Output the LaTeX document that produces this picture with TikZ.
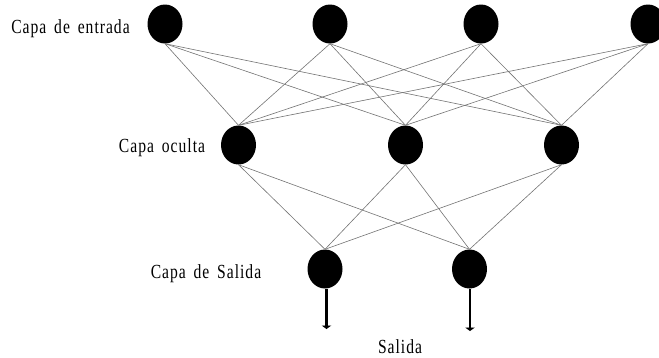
\documentclass[tikz,border=0pt]{standalone}
\usepackage{fontspec}
\setmainfont{Liberation Serif}
\newfontfamily\lblfont[FakeStretch=0.78,LetterSpace=5,WordSpace=1.6]{Liberation Serif}
\usetikzlibrary{shapes.geometric,arrows.meta}
\begin{document}
\begin{tikzpicture}[x=1pt,y=-1pt,
  neuron/.style={ellipse,fill=black,draw=none,minimum width=35pt,minimum height=39pt,inner sep=0pt},
  link/.style={draw=black!55,line width=0.6pt},
  outarrow/.style={draw=black,line width=2.8pt,-{Triangle[width=9.5pt,length=3.5pt]}},
  lbl/.style={font=\lblfont\fontsize{20}{22}\selectfont,inner sep=0pt}]
\useasboundingbox (0,0) rectangle (659,357);
\clip (0,0) rectangle (659,357);
\node[neuron] (i1) at (165,24) {};
\node[neuron] (i2) at (330,24) {};
\node[neuron] (i3) at (481,24) {};
\node[neuron] (i4) at (648,24) {};
\node[neuron] (h1) at (238.5,145) {};
\node[neuron] (h2) at (405.5,145) {};
\node[neuron] (h3) at (561.5,145) {};
\node[neuron] (o1) at (325,269) {};
\node[neuron] (o2) at (469.5,269) {};
\foreach \i in {i1,i2,i3,i4}{
  \foreach \h in {h1,h2,h3}{
    \draw[link] (\i.south) -- (\h.north);
  }
}
\foreach \h in {h1,h2,h3}{
  \foreach \o in {o1,o2}{
    \draw[link] (\h.south) -- (\o.north);
  }
}
\coordinate (e1) at (326.5,329);
\coordinate (e2) at (470,331);
\draw[outarrow] ([xshift=1.5pt]o1.south) -- (e1);
\draw[outarrow] ([xshift=0.5pt]o2.south) -- (e2);
\node[lbl] (l1) at (70.5,29) {Capa de entrada};
\node[lbl] (l2) at (162,148) {Capa oculta};
\node[lbl] (l3) at (206,274) {Capa de Salida};
\node[lbl] (l4) at (400,347) {Salida};
\end{tikzpicture}
\end{document}
